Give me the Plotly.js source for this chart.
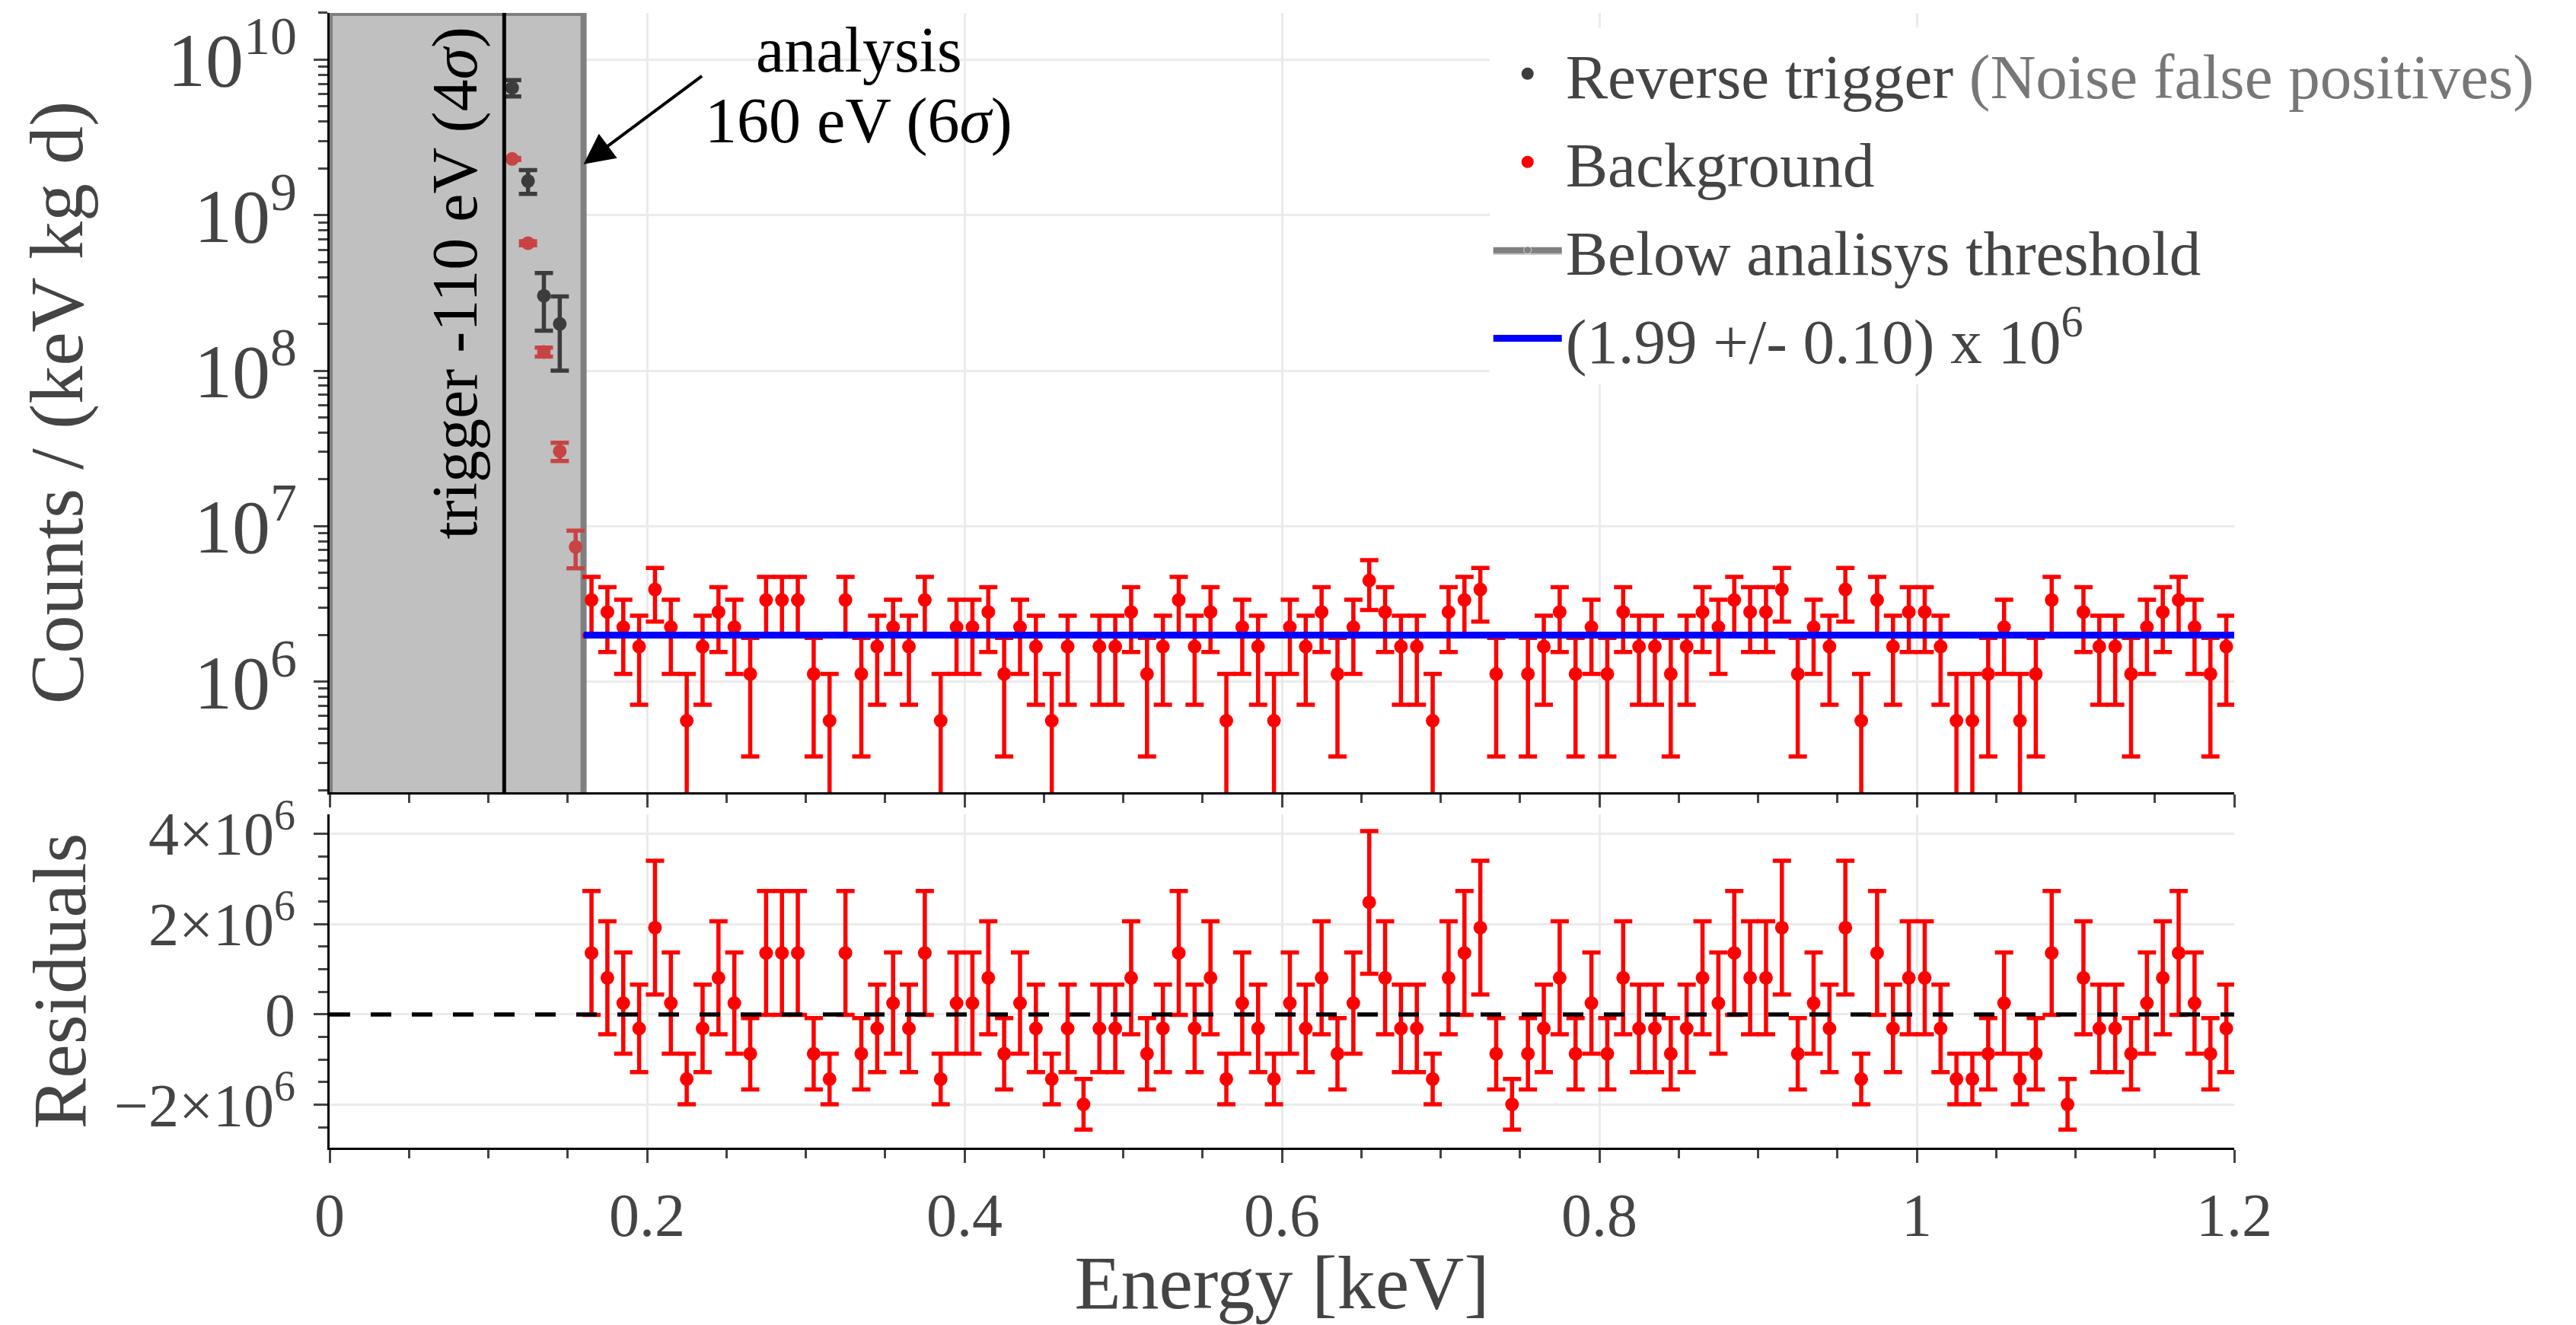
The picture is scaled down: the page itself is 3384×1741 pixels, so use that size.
<!DOCTYPE html>
<html>
<head>
<meta charset="utf-8">
<script src="https://cdn.plot.ly/plotly-3.0.1.min.js"></script>
<style>html,body{margin:0;padding:0;background:#fff;}#chart{width:3384px;height:1741px;}</style>
</head>
<body>
<div id="chart"></div>
<script>
// ---------------- DATA ----------------
// Bin centres (keV) above the analysis threshold
var energy = [
  0.165,0.175,0.185,0.195,0.205,0.215,0.225,0.235,0.245,0.255,
  0.265,0.275,0.285,0.295,0.305,0.315,0.325,0.335,0.345,0.355,
  0.365,0.375,0.385,0.395,0.405,0.415,0.425,0.435,0.445,0.455,
  0.465,0.475,0.485,0.495,0.505,0.515,0.525,0.535,0.545,0.555,
  0.565,0.575,0.585,0.595,0.605,0.615,0.625,0.635,0.645,0.655,
  0.665,0.675,0.685,0.695,0.705,0.715,0.725,0.735,0.745,0.755,
  0.765,0.775,0.785,0.795,0.805,0.815,0.825,0.835,0.845,0.855,
  0.865,0.875,0.885,0.895,0.905,0.915,0.925,0.935,0.945,0.955,
  0.965,0.975,0.985,0.995,1.005,1.015,1.025,1.035,1.045,1.055,
  1.065,1.075,1.085,1.095,1.105,1.115,1.125,1.135,1.145,1.155,
  1.165,1.175,1.185,1.195
];
// Background rate, counts / (keV kg d)  (null = empty bin)
var bgRate = [
  3.35e6,2.80e6,2.24e6,1.68e6,3.91e6,2.24e6,0.56e6,1.68e6,2.80e6,2.24e6,
  1.12e6,3.35e6,3.35e6,3.35e6,1.12e6,0.56e6,3.35e6,1.12e6,1.68e6,2.24e6,
  1.68e6,3.35e6,0.56e6,2.24e6,2.24e6,2.80e6,1.12e6,2.24e6,1.68e6,0.56e6,
  1.68e6,null,1.68e6,1.68e6,2.80e6,1.12e6,1.68e6,3.35e6,1.68e6,2.80e6,
  0.56e6,2.24e6,1.68e6,0.56e6,2.24e6,1.68e6,2.80e6,1.12e6,2.24e6,4.47e6,
  2.80e6,1.68e6,1.68e6,0.56e6,2.80e6,3.35e6,3.91e6,1.12e6,null,1.12e6,
  1.68e6,2.80e6,1.12e6,2.24e6,1.12e6,2.80e6,1.68e6,1.68e6,1.12e6,1.68e6,
  2.80e6,2.24e6,3.35e6,2.80e6,2.80e6,3.91e6,1.12e6,2.24e6,1.68e6,3.91e6,
  0.56e6,3.35e6,1.68e6,2.80e6,2.80e6,1.68e6,0.56e6,0.56e6,1.12e6,2.24e6,
  0.56e6,1.12e6,3.35e6,null,2.80e6,1.68e6,1.68e6,1.12e6,2.24e6,2.80e6,
  3.35e6,2.24e6,1.12e6,1.68e6
];
// Statistical uncertainty of each bin
var bgErr = [
  1.37e6,1.25e6,1.12e6,0.97e6,1.48e6,1.12e6,0.56e6,0.97e6,1.25e6,1.12e6,
  0.79e6,1.37e6,1.37e6,1.37e6,0.79e6,0.56e6,1.37e6,0.79e6,0.97e6,1.12e6,
  0.97e6,1.37e6,0.56e6,1.12e6,1.12e6,1.25e6,0.79e6,1.12e6,0.97e6,0.56e6,
  0.97e6,0.56e6,0.97e6,0.97e6,1.25e6,0.79e6,0.97e6,1.37e6,0.97e6,1.25e6,
  0.56e6,1.12e6,0.97e6,0.56e6,1.12e6,0.97e6,1.25e6,0.79e6,1.12e6,1.58e6,
  1.25e6,0.97e6,0.97e6,0.56e6,1.25e6,1.37e6,1.48e6,0.79e6,0.56e6,0.79e6,
  0.97e6,1.25e6,0.79e6,1.12e6,0.79e6,1.25e6,0.97e6,0.97e6,0.79e6,0.97e6,
  1.25e6,1.12e6,1.37e6,1.25e6,1.25e6,1.48e6,0.79e6,1.12e6,0.97e6,1.48e6,
  0.56e6,1.37e6,0.97e6,1.25e6,1.25e6,0.97e6,0.56e6,0.56e6,0.79e6,1.12e6,
  0.56e6,0.79e6,1.37e6,0.56e6,1.25e6,0.97e6,0.97e6,0.79e6,1.12e6,1.25e6,
  1.37e6,1.12e6,0.79e6,0.97e6
];
// Residuals (data - fit)
var residual = [
  1.36e6,0.81e6,0.25e6,-0.31e6,1.92e6,0.25e6,-1.43e6,-0.31e6,0.81e6,0.25e6,
  -0.87e6,1.36e6,1.36e6,1.36e6,-0.87e6,-1.43e6,1.36e6,-0.87e6,-0.31e6,0.25e6,
  -0.31e6,1.36e6,-1.43e6,0.25e6,0.25e6,0.81e6,-0.87e6,0.25e6,-0.31e6,-1.43e6,
  -0.31e6,-1.99e6,-0.31e6,-0.31e6,0.81e6,-0.87e6,-0.31e6,1.36e6,-0.31e6,0.81e6,
  -1.43e6,0.25e6,-0.31e6,-1.43e6,0.25e6,-0.31e6,0.81e6,-0.87e6,0.25e6,2.48e6,
  0.81e6,-0.31e6,-0.31e6,-1.43e6,0.81e6,1.36e6,1.92e6,-0.87e6,-1.99e6,-0.87e6,
  -0.31e6,0.81e6,-0.87e6,0.25e6,-0.87e6,0.81e6,-0.31e6,-0.31e6,-0.87e6,-0.31e6,
  0.81e6,0.25e6,1.36e6,0.81e6,0.81e6,1.92e6,-0.87e6,0.25e6,-0.31e6,1.92e6,
  -1.43e6,1.36e6,-0.31e6,0.81e6,0.81e6,-0.31e6,-1.43e6,-1.43e6,-0.87e6,0.25e6,
  -1.43e6,-0.87e6,1.36e6,-1.99e6,0.81e6,-0.31e6,-0.31e6,-0.87e6,0.25e6,0.81e6,
  1.36e6,0.25e6,-0.87e6,-0.31e6
];
// Below analysis threshold
var lowBgEnergy = [0.115, 0.125, 0.135, 0.145, 0.155];
var lowBgRate   = [2.3e9, 6.6e8, 1.32e8, 3.03e7, 7.35e6];
var lowBgErr    = [3.6e7, 1.9e7, 8.6e6, 4.1e6, 2.0e6];
var rtEnergy    = [0.115, 0.125, 0.135, 0.145];
var rtRate      = [6.6e9, 1.66e9, 3.03e8, 2.0e8];
var rtErr       = [8.0e8, 2.9e8, 1.22e8, 1.0e8];
// Fit (constant)
var fitEnergy = [0.16, 1.2];
var fitValue  = [1.99e6, 1.99e6];
var zeroEnergy = [0, 1.2];
var zeroValue  = [0, 0];
// Thresholds (keV)
var triggerThreshold  = 0.11;
var analysisThreshold = 0.16;
var shadeX = [0, 0, analysisThreshold, analysisThreshold, 0];
var shadeY = [1e5, 2e10, 2e10, 1e5, 1e5];
// Labels
var legendRT  = 'Reverse trigger <span style="color:#777777">(Noise false positives)</span>';
var legendBg  = 'Background';
var legendLow = 'Below analisys threshold';
var legendFit = '(1.99 +/- 0.10) x 10<sup>6</sup>';

// ---------------- STYLE ----------------
var FONT = 'Liberation Serif, Times New Roman, serif';
var TXT = '#444444';
var GRID = '#ebebeb';

var traces = [
  { x: shadeX, y: shadeY, xaxis:'x', yaxis:'y', type:'scatter', mode:'lines+markers',
    fill:'toself', fillcolor:'#c0c0c0', line:{color:'#808080', width:8},
    // only the off-range closing vertex carries a marker: it gives the legend its dot
    marker:{color:'#808080', size:[0,0,0,0,50]},
    name: legendLow, legendrank: 3, legendgroup:'g3', hoverinfo:'skip' },
  { x: rtEnergy, y: rtRate, xaxis:'x', yaxis:'y', type:'scatter', mode:'markers',
    marker:{color:'#3c3c3c', size:18},
    error_y:{type:'data', array: rtErr, color:'#3c3c3c', thickness:5.5, width:12},
    name: legendRT, legendrank: 1, legendgroup:'g1' },
  { x: lowBgEnergy, y: lowBgRate, xaxis:'x', yaxis:'y', type:'scatter', mode:'markers',
    marker:{color:'#c84444', size:18},
    error_y:{type:'data', array: lowBgErr, color:'#c84444', thickness:5.5, width:12},
    showlegend:false },
  { x: energy, y: bgRate, xaxis:'x', yaxis:'y', type:'scatter', mode:'markers',
    marker:{color:'#ff0000', size:18},
    error_y:{type:'data', array: bgErr, color:'#ff0000', thickness:5.5, width:12},
    name: legendBg, legendrank: 2, legendgroup:'g2' },
  { x: fitEnergy, y: fitValue, xaxis:'x', yaxis:'y', type:'scatter', mode:'lines',
    line:{color:'#0000ff', width:9}, name: legendFit, legendrank: 4, legendgroup:'g4' },
  { x: energy, y: residual, xaxis:'x2', yaxis:'y2', type:'scatter', mode:'markers',
    marker:{color:'#ff0000', size:18},
    error_y:{type:'data', array: bgErr, color:'#ff0000', thickness:5.5, width:12},
    showlegend:false },
  { x: zeroEnergy, y: zeroValue, xaxis:'x2', yaxis:'y2', type:'scatter', mode:'lines',
    line:{color:'#000000', width:5.5, dash:'27px,27px'}, showlegend:false }
];

function xAxisBase(){
  return {
    range:[0,1.2], tick0:0, dtick:0.2, ticks:'outside', ticklen:17, tickwidth:3, tickcolor:TXT,
    minor:{dtick:0.05, ticks:'outside', ticklen:11, tickwidth:3, tickcolor:TXT, showgrid:false},
    showgrid:true, gridcolor:GRID, gridwidth:3, zeroline:false,
    showline:true, linecolor:'#000000', linewidth:3
  };
}
var xaxis = xAxisBase();
xaxis.domain=[0,1]; xaxis.anchor='y'; xaxis.showticklabels=false;
var xaxis2 = xAxisBase();
xaxis2.domain=[0,1]; xaxis2.anchor='y2';
xaxis2.tickfont={size:80, color:TXT, family:FONT};
xaxis2.ticklabelstandoff = 0;
xaxis2.title = {text:'Energy [keV]', font:{size:100, color:TXT, family:FONT}, standoff:57};

var layout = {
  width:3384, height:1741,
  paper_bgcolor:'#ffffff', plot_bgcolor:'#ffffff',
  margin:{l:433, r:449, t:17, b:233, autoexpand:false},
  font:{family:FONT, color:TXT, size:80},
  showlegend:true,
  legend:{x:0.609, y:0.987, xanchor:'left', yanchor:'top', bgcolor:'#ffffff',
          font:{size:83, color:TXT, family:FONT}, itemwidth:90,
          traceorder:'grouped', tracegroupgap:5},
  xaxis: xaxis,
  xaxis2: xaxis2,
  yaxis:{
    domain:[0.3132,1], anchor:'x', type:'log', range:[5.288,10.301], dtick:1,
    exponentformat:'power', tickfont:{size:80, color:TXT, family:FONT},
    ticks:'outside', ticklen:18, tickwidth:3, tickcolor:TXT, ticklabelstandoff:6,
    minor:{ticks:'outside', ticklen:12, tickwidth:3, tickcolor:TXT, showgrid:false},
    showgrid:true, gridcolor:GRID, gridwidth:3, zeroline:false,
    showline:true, linecolor:'#000000', linewidth:3,
    title:{text:'Counts / (keV kg d)', font:{size:100, color:TXT, family:FONT}, standoff:78}
  },
  yaxis2:{
    domain:[0,0.2938], anchor:'x2', range:[-2.95e6,4.43e6], tick0:0, dtick:2e6,
    exponentformat:'power', tickfont:{size:80, color:TXT, family:FONT},
    ticks:'outside', ticklen:18, tickwidth:3, tickcolor:TXT, ticklabelstandoff:8,
    minor:{dtick:5e5, ticks:'outside', ticklen:12, tickwidth:3, tickcolor:TXT, showgrid:false},
    showgrid:true, gridcolor:GRID, gridwidth:3, zeroline:false,
    showline:true, linecolor:'#000000', linewidth:3,
    title:{text:'Residuals', font:{size:100, color:TXT, family:FONT}, standoff:4}
  },
  shapes:[
    {type:'line', xref:'x', yref:'y domain', x0:triggerThreshold, x1:triggerThreshold, y0:0, y1:1,
     line:{color:'#000000', width:5}, layer:'above'}
  ],
  annotations:[
    {xref:'x', yref:'y', x:analysisThreshold, y:Math.log10(2.13e9), ax:157, ay:-117,
     text:'', showarrow:true, arrowhead:2, arrowsize:2, arrowwidth:4, arrowcolor:'#000000', standoff:0},
    {xref:'paper', yref:'paper', x:0.2778, y:0.9675, xanchor:'center', yanchor:'middle', showarrow:false,
     text:'analysis', font:{size:84, color:'#000000', family:FONT}},
    {xref:'paper', yref:'paper', x:0.2778, y:0.9045, xanchor:'center', yanchor:'middle', showarrow:false,
     text:'160 eV (6<i>σ</i>)', font:{size:84, color:'#000000', family:FONT}},
    {xref:'x', yref:'paper', x:0.079, y:0.762, xanchor:'center', yanchor:'middle', showarrow:false,
     textangle:-90, text:'trigger -110 eV (4<i>σ</i>)', font:{size:84, color:'#000000', family:FONT}}
  ]
};

Plotly.newPlot('chart', traces, layout, {displayModeBar:false, staticPlot:true});
</script>
</body>
</html>
